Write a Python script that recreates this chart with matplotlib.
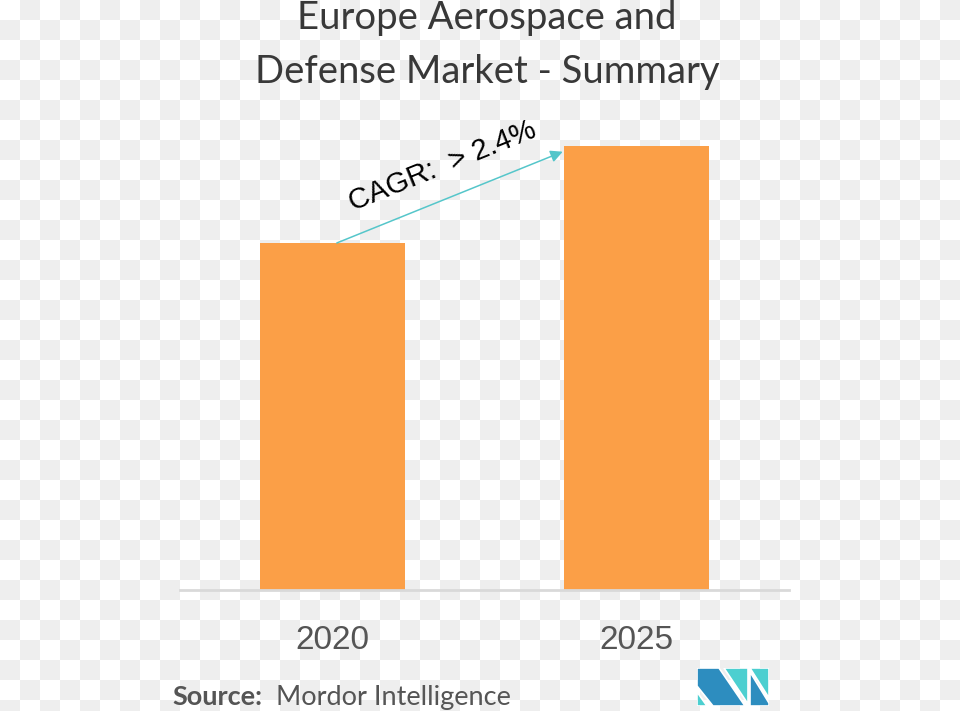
import matplotlib.pyplot as plt
import numpy as np
from matplotlib.patches import Polygon

# market size, relative index
years = ["2020", "2025"]
values = [1.0, 1.28]
cagr_label = "CAGR:  > 2.4%"
title = "Europe Aerospace and\nDefense Market - Summary"

W, H = 960, 711
fig = plt.figure(figsize=(W / 100, H / 100), dpi=100)

# light checkerboard backdrop (20 px squares)
yy, xx = np.mgrid[0:H, 0:W]
board = np.where(((yy // 20) + (xx // 20)) % 2 == 1, 0.933, 1.0)
bg = fig.add_axes([0, 0, 1, 1], zorder=-1)
bg.imshow(board, cmap="gray", vmin=0, vmax=1, aspect="auto", interpolation="nearest")
bg.axis("off")

ax = fig.add_axes([180 / W, 1 - 590 / H, 609 / W, 490 / H])
ax.set_facecolor("none")
x = np.arange(len(years))
ax.bar(x, values, width=0.476, color="#fb9f47", zorder=2)
ax.set_xlim(-0.5, 1.5)
ax.set_ylim(0, 1.412)
ax.set_yticks([])
ax.set_xticks(x)
ax.set_xticklabels(years, fontsize=24, color="#555555", family="Liberation Sans")
ax.tick_params(axis="x", length=0, pad=25)
for s in ["top", "left", "right"]:
    ax.spines[s].set_visible(False)
ax.spines["bottom"].set_color("#d9d9d9")
ax.spines["bottom"].set_linewidth(2)

# CAGR arrow from first bar top to second bar
ax.annotate("", xy=(x[1] - 0.243, values[1] - 0.017), xytext=(x[0] + 0.015, values[0]),
            arrowprops=dict(arrowstyle="-|>", color="#55c6ca", lw=1.1, mutation_scale=18,
                            shrinkA=0, shrinkB=0), zorder=3)
fig.text(442 / W, 1 - 166 / H, cagr_label, fontsize=21, family="Liberation Sans",
         color="black", rotation=22, ha="center", va="center", rotation_mode="anchor")

fig.text(487 / W, 1 - 45 / H, title, fontsize=27.5, family="Lato",
         color="#383838", ha="center", va="center", linespacing=1.6)

fig.text(172 / W, 1 - 705 / H, "Source:", fontsize=19.5, family="Lato", weight="bold",
         color="#555555", ha="left", va="baseline")
fig.text(276 / W, 1 - 705 / H, "Mordor Intelligence", fontsize=19.5, family="Lato",
         color="#555555", ha="left", va="baseline")

# logo
lax = fig.add_axes([697 / W, 1 - 706 / H, 72 / W, 38 / H])
lax.set_xlim(0, 72)
lax.set_ylim(0, 38)
lax.axis("off")
blue, teal = "#2d8dbf", "#4ccfd0"
shapes = [
    ([(0, 38), (22, 38), (48, 0), (16, 0), (0, 20)], blue),
    ([(0, 14), (0, 0), (10, 0)], teal),
    ([(27, 38), (51, 38), (51, 2)], teal),
    ([(53, 38), (72, 38), (72, 8)], teal),
    ([(53, 34), (72, 3), (72, 0), (53, 0)], blue),
]
for pts, col in shapes:
    lax.add_patch(Polygon(pts, closed=True, facecolor=col, edgecolor="white", lw=1.2))

fig.savefig("out.png", dpi=100)
